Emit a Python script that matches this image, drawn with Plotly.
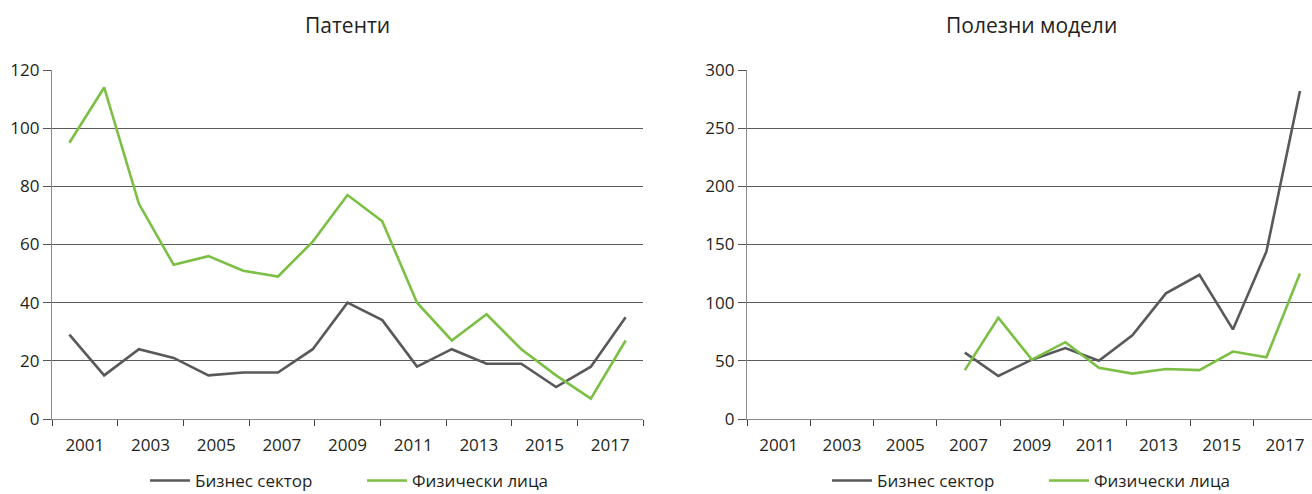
import plotly.graph_objects as go

# ---- data ----
years = list(range(2001, 2018))
patents_business = [29, 15, 24, 21, 15, 16, 16, 24, 40, 34, 18, 24, 19, 19, 11, 18, 35]
patents_individuals = [95, 114, 74, 53, 56, 51, 49, 61, 77, 68, 40, 27, 36, 24, 15, 7, 27]

um_years = list(range(2007, 2018))
um_business = [57, 37, 51, 61, 50, 72, 108, 124, 77, 144, 282]
um_individuals = [42, 87, 51, 66, 44, 39, 43, 42, 58, 53, 125]

tick_labels = ["2001", "2003", "2005", "2007", "2009", "2011", "2013", "2015", "2017"]
series_names = ["Бизнес сектор", "Физически лица"]
titles = ["Патенти", "Полезни модели"]

# ---- styling ----
DARK = "#58595b"
GREEN = "#7bbf44"
TEXT = "#231f20"
GRID = "#5a5a5a"
AXIS = "#8a8a8a"
FONT = "Open Sans"

W, H = 1312, 494

x0 = years[0] - 0.5
span = len(years)
n_int = len(tick_labels)
step = span / n_int
major_vals = [x0 + (i + 0.5) * step for i in range(n_int)]
minor_vals = [x0 + i * step for i in range(n_int + 1)]

fig = go.Figure()

fig.add_trace(go.Scatter(x=years, y=patents_business, mode="lines", name=series_names[0],
                         line=dict(color=DARK, width=2.6), xaxis="x", yaxis="y", legend="legend",
                         cliponaxis=False))
fig.add_trace(go.Scatter(x=years, y=patents_individuals, mode="lines", name=series_names[1],
                         line=dict(color=GREEN, width=2.6), xaxis="x", yaxis="y", legend="legend",
                         cliponaxis=False))
fig.add_trace(go.Scatter(x=um_years, y=um_business, mode="lines", name=series_names[0],
                         line=dict(color=DARK, width=2.6), xaxis="x2", yaxis="y2", legend="legend2",
                         cliponaxis=False))
fig.add_trace(go.Scatter(x=um_years, y=um_individuals, mode="lines", name=series_names[1],
                         line=dict(color=GREEN, width=2.6), xaxis="x2", yaxis="y2", legend="legend2",
                         cliponaxis=False))

left_dom = [52 / W, 643 / W]
right_dom = [747 / W, 1.0]
right_end = x0 + span * (W - 747) / (1316.7 - 747)


def xaxis_cfg(dom, rng):
    return dict(
        domain=dom, range=rng, showgrid=False, zeroline=False, automargin=False,
        showline=True, linecolor=AXIS, linewidth=1.3,
        tickmode="array", tickvals=major_vals, ticktext=tick_labels,
        ticks="", ticklabelstandoff=10,
        tickfont=dict(family=FONT, size=17, color=TEXT),
        minor=dict(tickmode="array", tickvals=minor_vals, ticks="outside",
                   ticklen=6, tickwidth=1.3, tickcolor="#444444", showgrid=False),
        fixedrange=True,
    )


def yaxis_cfg(anchor, rng, dtick):
    return dict(
        anchor=anchor, domain=[0, 1], range=rng, dtick=dtick, tick0=0, automargin=False,
        showgrid=True, gridcolor=GRID, gridwidth=1.2,
        zeroline=False, showline=True, linecolor=AXIS, linewidth=1.3,
        ticks="outside", ticklen=8, tickwidth=1.3, tickcolor="#555555",
        tickfont=dict(family=FONT, size=17, color=TEXT),
        fixedrange=True,
    )


leg_font = dict(family=FONT, size=17, color=TEXT)
leg_common = dict(orientation="h", xanchor="center", xref="container", yref="container",
                  y=(H - 481) / H, yanchor="middle",
                  font=leg_font, itemwidth=40, tracegroupgap=0,
                  entrywidth=162, entrywidthmode="pixels", bgcolor="rgba(0,0,0,0)")

fig.update_layout(
    width=W, height=H,
    margin=dict(l=0, r=0, t=70, b=75),
    paper_bgcolor="white", plot_bgcolor="white",
    font=dict(family=FONT, color=TEXT),
    xaxis=dict(anchor="y", **xaxis_cfg(left_dom, [x0, x0 + span])),
    yaxis=yaxis_cfg("x", [0, 120], 20),
    xaxis2=dict(anchor="y2", **xaxis_cfg(right_dom, [x0, right_end])),
    yaxis2=yaxis_cfg("x2", [0, 300], 50),
    legend=dict(x=362 / W, **leg_common),
    legend2=dict(x=1044 / W, **leg_common),
    showlegend=True,
    annotations=[
        dict(text=titles[0], xref="paper", yref="paper", x=(left_dom[0] + left_dom[1]) / 2,
             y=1 + 45 / 349, xanchor="center", yanchor="middle", showarrow=False,
             font=dict(family=FONT, size=21, color=TEXT)),
        dict(text=titles[1], xref="paper", yref="paper", x=(747 + 1316.7) / 2 / W,
             y=1 + 45 / 349, xanchor="center", yanchor="middle", showarrow=False,
             font=dict(family=FONT, size=21, color=TEXT)),
    ],
)

fig.write_html("out.html", config={"displayModeBar": False},
               post_script="document.body.style.margin='0px';document.body.style.overflow='hidden';")
